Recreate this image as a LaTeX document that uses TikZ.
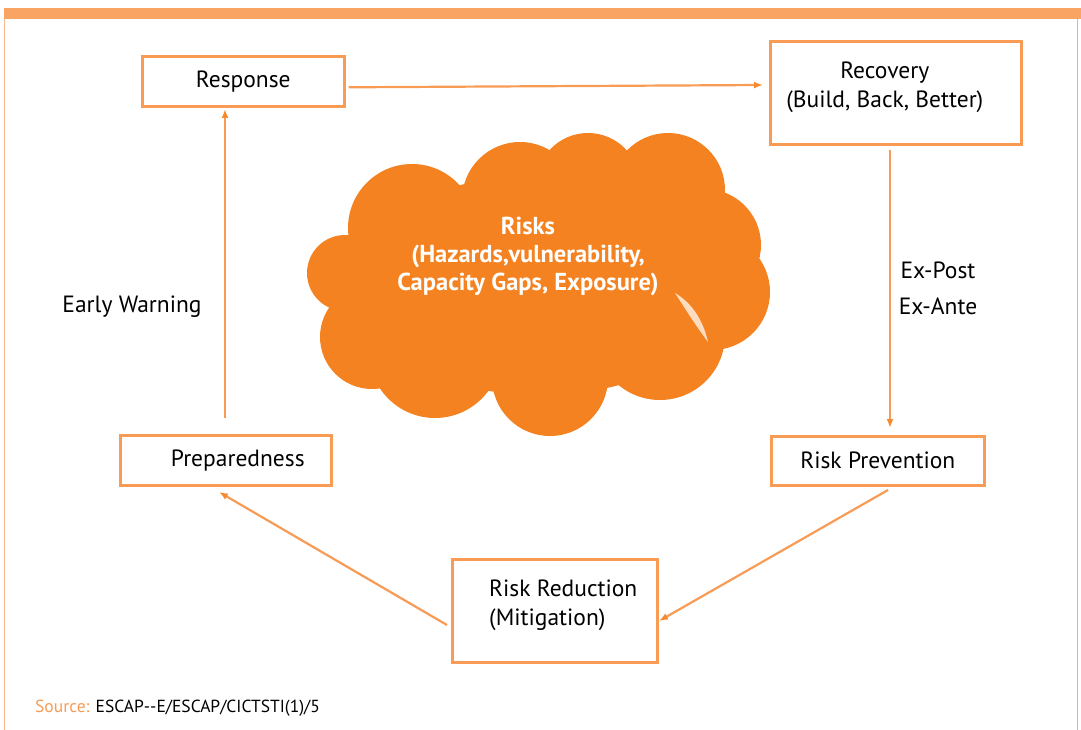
\documentclass[tikz,border=0pt]{standalone}
\usepackage{fontspec}
\setmainfont{PT Sans}
\usetikzlibrary{arrows.meta}
\definecolor{boxc}{HTML}{F79B55}
\definecolor{barc}{HTML}{F9A462}
\definecolor{cloudc}{HTML}{F58220}
\definecolor{arrc}{HTML}{F58A2E}
\definecolor{peach}{HTML}{FDDCC0}
\tikzset{
  boxn/.style={draw=boxc, line width=2.6pt, rectangle, inner sep=0pt, anchor=north west},
  txt/.style={font=\fontsize{23.5}{29}\selectfont, text=black, align=center, inner sep=0pt},
  arr/.style={draw=boxc, line width=2.2pt, -{Latex[length=9pt,width=7pt,color=arrc]}},
}
\begin{document}
\begin{tikzpicture}[x=1pt,y=-1pt]
\useasboundingbox (0,0) rectangle (1081,730);
% frame
\fill[barc] (4,8) rectangle (1081,19);
\draw[boxc!70, line width=1pt] (4.5,19) -- (4.5,730);
\draw[black!25, line width=0.6pt] (1077,19) -- (1077,730);
% cloud
\begin{scope}
\fill[cloudc] (345,273) circle (38);
\fill[cloudc] (372,337) circle (52);
\fill[cloudc] (412,228) circle (64);
\fill[cloudc] (520,200) circle (58);
\fill[cloudc] (588,185) circle (52);
\fill[cloudc] (668,190) circle (57);
\fill[cloudc] (705,245) circle (56);
\fill[cloudc] (712,292) circle (58);
\fill[cloudc] (660,335) circle (65);
\fill[cloudc] (550,378) circle (58);
\fill[cloudc] (435,352) circle (66);
\fill[cloudc] (540,285) ellipse (190 and 110);
\fill[peach] (675,293) .. controls (692,303) and (703,320) .. (708,342) .. controls (696,326) and (686,310) .. (675,293) -- cycle;
\end{scope}
\node[font=\bfseries\fontsize{24.5}{28}\selectfont, text=white, align=center, inner sep=0pt] (risks) at (528,256) {Risks\\(Hazards,vulnerability,\\Capacity Gaps, Exposure)};
% boxes
\node[boxn, minimum width=202, minimum height=50] (resp) at (141,55) {};
\node[txt] at (resp.center) {Response};
\node[boxn, minimum width=251, minimum height=103] (rec) at (769,40) {};
\node[txt] at ([xshift=-11,yshift=6]rec.center) {Recovery\\(Build, Back, Better)};
\node[boxn, minimum width=211, minimum height=50] (prep) at (119,434) {};
\node[txt] at ([xshift=12]prep.center) {Preparedness};
\node[boxn, minimum width=213, minimum height=49] (prev) at (770,435) {};
\node[txt] at (prev.center) {Risk Prevention};
\node[boxn, minimum width=205, minimum height=103] (red) at (451,558) {};
\node[txt, align=left, anchor=west] at (489,605) {Risk Reduction\\(Mitigation)};
% labels
\node[txt] (ew) at (132,307) {Early Warning};
\node[txt] (ep) at (938,270) {Ex-Post};
\node[txt] (ea) at (938,306) {Ex-Ante};
% arrows
\draw[arr] ([xshift=3,yshift=-6]resp.east) -- ([xshift=-6]rec.west |- 0,85);
\draw[arr] (890,150) -- (890,428);
\draw[arr] (888,490) -- (659,621);
\draw[arr] (447,625) -- (219,492);
\draw[arr] (225,418) -- (225,109);
% source
\node[anchor=west, inner sep=0pt, font=\fontsize{17.5}{20}\selectfont] (src) at (35,708) {\textcolor{boxc}{Source:} ESCAP{-}{-}E/ESCAP/CICTSTI(1)/5};
\end{tikzpicture}
\end{document}
